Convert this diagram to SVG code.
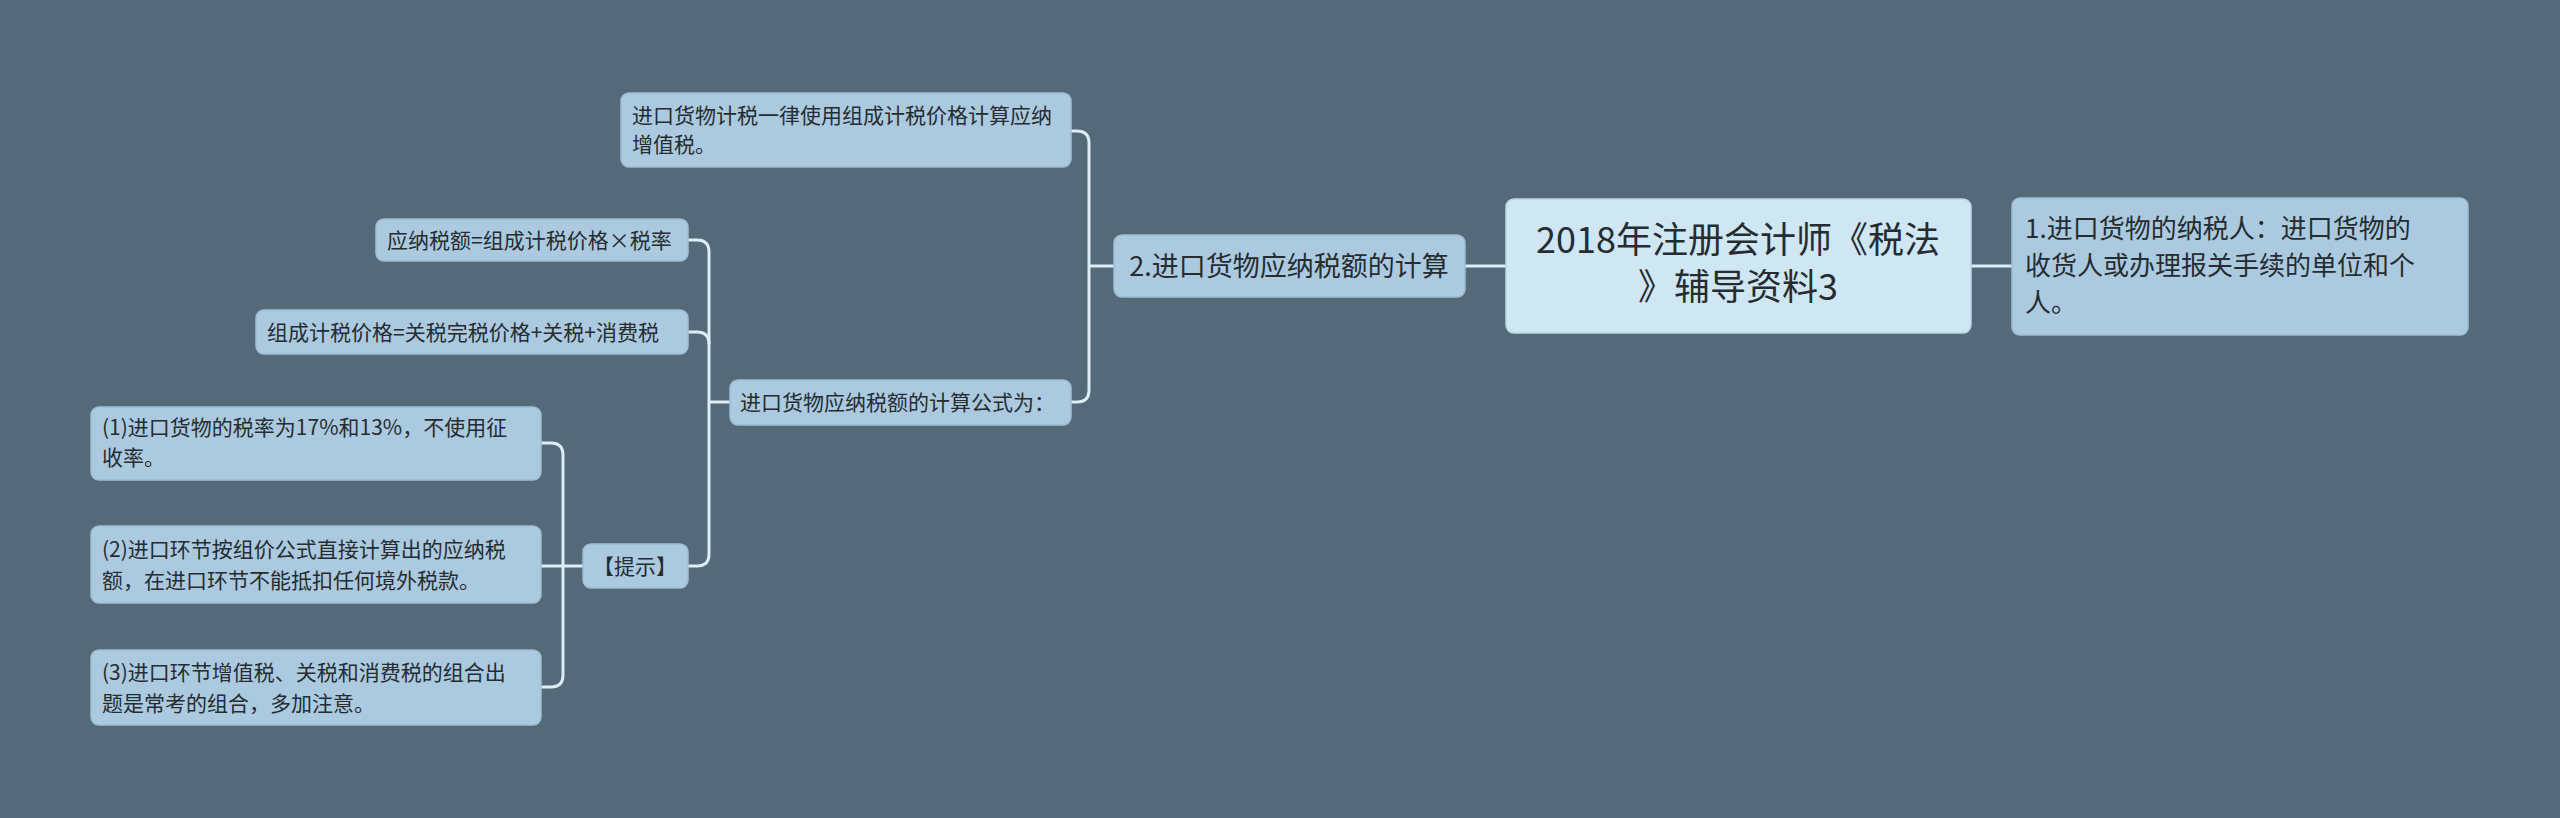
<svg xmlns="http://www.w3.org/2000/svg" width="2560" height="818" viewBox="0 0 2560 818">
<style>
.n{fill:#abcae0;stroke:#9fbdd3;stroke-width:1.5}
.r{fill:#cfe6f3;stroke:#bcd6e6;stroke-width:1.5}
text{font-family:"Noto Sans CJK SC","Noto Sans",sans-serif;fill:#262c30}
.s{font-size:21px}
.c{fill:none;stroke:#dcedf6;stroke-width:3}
</style>
<rect width="2560" height="818" fill="#546a79"/>
<g id="connectors">
<path class="c" d="M1506 266H1465"/>
<path class="c" d="M1971 266H2012"/>
<path class="c" d="M1114 266H1089"/>
<path class="c" d="M1071 131H1077Q1089 131 1089 143V390Q1089 402 1077 402H1071"/>
<path class="c" d="M730 402H709"/>
<path class="c" d="M688 240H697Q709 240 709 252V554Q709 566 697 566H688"/>
<path class="c" d="M688 332H697Q709 332 709 344"/>
<path class="c" d="M583 566H541"/>
<path class="c" d="M541 443H551Q563 443 563 455V675Q563 687 551 687H541"/>
</g>
<g id="root"><rect class="r" x="1506" y="199" width="465" height="134" rx="8"/>
<text x="1738" y="253" font-size="36" text-anchor="middle">2018年注册会计师《税法</text>
<text x="1738" y="300" font-size="36" text-anchor="middle">》辅导资料3</text></g>
<g id="n1"><rect class="n" x="2012" y="198" width="456" height="137" rx="8"/>
<text x="2025" y="238" font-size="26">1.进口货物的纳税人：进口货物的</text>
<text x="2025" y="275" font-size="26">收货人或办理报关手续的单位和个</text>
<text x="2025" y="312" font-size="26">人。</text></g>
<g id="n2"><rect class="n" x="1114" y="235" width="351" height="62" rx="8"/>
<text x="1289" y="276" font-size="27" text-anchor="middle">2.进口货物应纳税额的计算</text></g>
<g id="n3"><rect class="n" x="621" y="93" width="450" height="74" rx="8"/>
<text class="s" x="632" y="123">进口货物计税一律使用组成计税价格计算应纳</text>
<text class="s" x="632" y="152">增值税。</text></g>
<g id="n4"><rect class="n" x="730" y="380" width="341" height="45" rx="8"/>
<text class="s" x="740" y="410">进口货物应纳税额的计算公式为：</text></g>
<g id="n5"><rect class="n" x="376" y="219" width="312" height="42" rx="8"/>
<text class="s" x="387" y="248">应纳税额=组成计税价格×税率</text></g>
<g id="n6"><rect class="n" x="256" y="310" width="432" height="44" rx="8"/>
<text class="s" x="267" y="340">组成计税价格=关税完税价格+关税+消费税</text></g>
<g id="n7"><rect class="n" x="583" y="544" width="105" height="44" rx="8"/>
<text class="s" x="635" y="574" text-anchor="middle">【提示】</text></g>
<g id="n8"><rect class="n" x="91" y="407" width="450" height="73" rx="8"/>
<text class="s" x="102" y="435">(1)进口货物的税率为17%和13%，不使用征</text>
<text class="s" x="102" y="465">收率。</text></g>
<g id="n9"><rect class="n" x="91" y="526" width="450" height="77" rx="8"/>
<text class="s" x="102" y="557">(2)进口环节按组价公式直接计算出的应纳税</text>
<text class="s" x="102" y="588">额，在进口环节不能抵扣任何境外税款。</text></g>
<g id="n10"><rect class="n" x="91" y="650" width="450" height="75" rx="8"/>
<text class="s" x="102" y="680">(3)进口环节增值税、关税和消费税的组合出</text>
<text class="s" x="102" y="711">题是常考的组合，多加注意。</text></g>
</svg>
